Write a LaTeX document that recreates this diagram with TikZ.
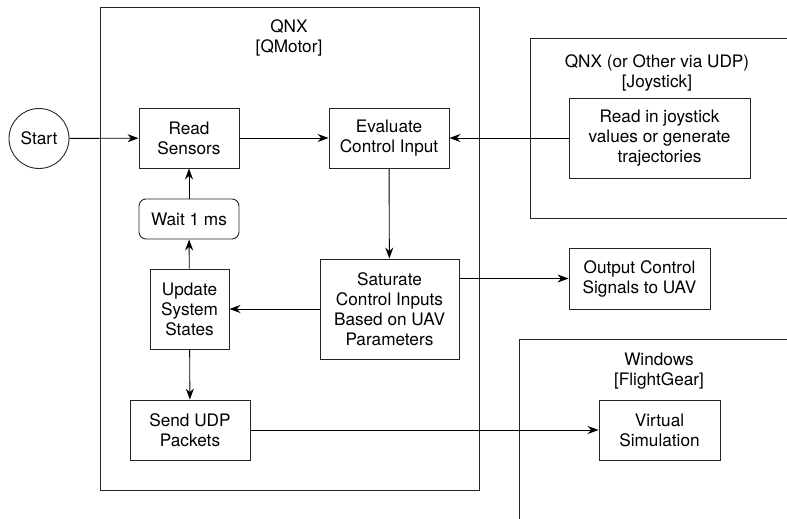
\documentclass[tikz,border=0pt]{standalone}
\usepackage{fontspec}
\setmainfont{TeX Gyre Heros}
\usetikzlibrary{arrows.meta}
\begin{document}
\begin{tikzpicture}[x=1pt,y=-1pt,
  every node/.style={font=\fontsize{17.2}{20}\selectfont, align=center, inner sep=0pt},
  blk/.style={draw=black!85, line width=0.9pt},
  frame/.style={draw=black!85, line width=0.9pt},
  conn/.style={line width=0.9pt, -{Stealth[length=11pt,width=8pt]}},
  lbl/.style={}]
\useasboundingbox (0,0) rectangle (787,519);
% frames
\draw[frame] (100,7) rectangle (479,490);
\draw[frame] (787,38) -- (530,38) -- (530,218) -- (787,218);
\draw[frame] (787,339) -- (519,339) -- (519,519);
% frame labels
\node[lbl] (qnxl) at (289,38) {QNX\\{[QMotor]}};
\node[lbl] (joyl) at (657,73) {QNX (or Other via UDP)\\{[Joystick]}};
\node[lbl] (winl) at (659,371) {Windows\\{[FlightGear]}};
% nodes
\node[draw=black!85, line width=0.9pt, circle, minimum size=60pt] (start) at (39,138.5) {Start};
\node[blk, minimum width=100pt, minimum height=60pt] (read) at (189,138) {Read\\Sensors};
\node[blk, minimum width=120pt, minimum height=60pt] (eval) at (389,138) {Evaluate\\Control Input};
\node[blk, rounded corners=7pt, minimum width=100pt, minimum height=40pt] (wait) at (189,219) {Wait 1 ms};
\node[blk, minimum width=79pt, minimum height=80pt] (upd) at (189.5,309) {Update\\System\\States};
\node[blk, minimum width=139pt, minimum height=100pt] (sat) at (389.5,309) {Saturate\\Control Inputs\\Based on UAV\\Parameters};
\node[blk, minimum width=120pt, minimum height=60pt] (udp) at (190,430) {Send UDP\\Packets};
\node[blk, minimum width=181pt, minimum height=80pt] (joy) at (659.5,138) {Read in joystick\\values or generate\\trajectories};
\node[blk, minimum width=141pt, minimum height=61pt] (out) at (639.5,278.5) {Output Control\\Signals to UAV};
\node[blk, minimum width=121pt, minimum height=60pt] (sim) at (659.5,430) {Virtual\\Simulation};
% connectors
\draw[conn] (start) -- (read);
\draw[conn] (read) -- (eval);
\draw[conn] (joy) -- (eval);
\draw[conn] (eval) -- (sat);
\draw[conn] (sat) -- (upd);
\draw[conn] (sat.east |- out.west) -- (out.west);
\draw[conn] (upd) -- (wait);
\draw[conn] (wait) -- (read);
\draw[conn] (upd) -- (udp);
\draw[conn] (udp) -- (sim);
\end{tikzpicture}
\end{document}
